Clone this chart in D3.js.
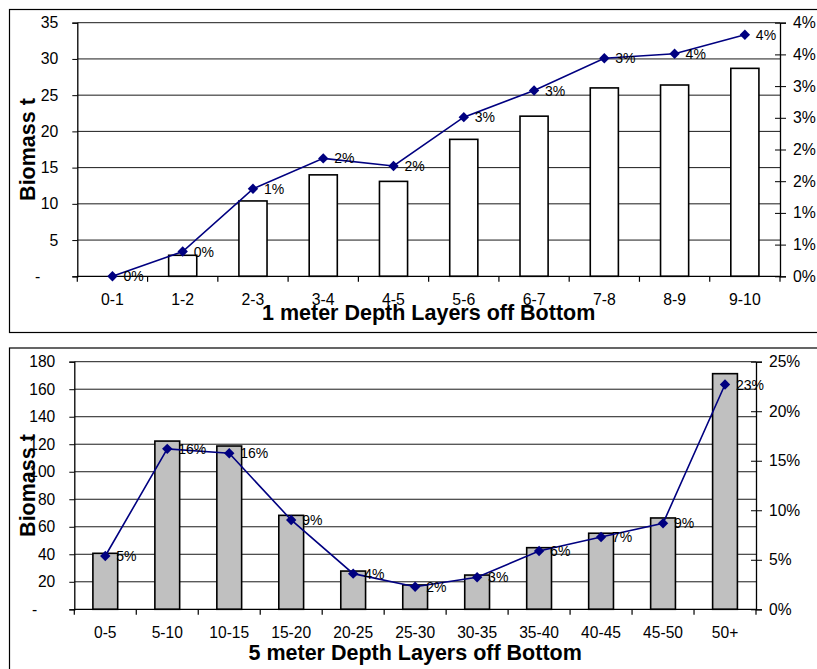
<!DOCTYPE html>
<html>
<head>
<meta charset="utf-8">
<script src="https://cdn.jsdelivr.net/npm/d3@7"></script>
<style>
  html, body { margin: 0; padding: 0; background: #fff; }
  svg { display: block; font-family: "Liberation Sans", Arial, sans-serif; }
</style>
</head>
<body>
<svg id="chart" width="817" height="669"></svg>
<script>
// 1 m layers (0-10 m off bottom)
const topCategories = ["0-1", "1-2", "2-3", "3-4", "4-5", "5-6", "6-7", "7-8", "8-9", "9-10"];
const topBiomass = [0, 2.9, 10.4, 14.0, 13.1, 18.9, 22.1, 26.0, 26.4, 28.7];
const topShare = [0.000, 0.0039, 0.0138, 0.0186, 0.0174, 0.0251, 0.0293, 0.0344, 0.0351, 0.0381];
const topLeftTicks = [0, 5, 10, 15, 20, 25, 30, 35];
const topRightTicks = [0, 0.005, 0.01, 0.015, 0.02, 0.025, 0.03, 0.035, 0.04];

// 5 m layers
const bottomCategories = ["0-5", "5-10", "10-15", "15-20", "20-25", "25-30", "30-35", "35-40", "40-45", "45-50", "50+"];
const bottomBiomass = [40.7, 122.3, 118.7, 68.3, 27.8, 17.7, 24.9, 44.8, 55.3, 66.4, 171.3];
const bottomShare = [0.0538, 0.162, 0.1575, 0.0902, 0.036, 0.0228, 0.0323, 0.0589, 0.073, 0.0868, 0.227];
const bottomLeftTicks = [0, 20, 40, 60, 80, 100, 120, 140, 160, 180];
const bottomRightTicks = [0, 0.05, 0.10, 0.15, 0.20, 0.25];

const svg = d3.select("#chart");
const pct = d => Math.round(d * 100) + "%";
const num = d => d === 0 ? "-" : String(d);
const LINE = "#000080";

function drawPanel(cfg) {
  // frame around the panel
  svg.append("rect")
    .attr("x", 9.5).attr("y", cfg.frameTop + 0.5)
    .attr("width", 830).attr("height", cfg.frameHeight)
    .attr("fill", "none").attr("stroke", "#000").attr("stroke-width", 1.2);

  const x = d3.scaleBand().domain(cfg.categories).range([cfg.left, cfg.right]).paddingInner(0.6).paddingOuter(0.3);
  const yL = d3.scaleLinear().domain([0, cfg.leftMax]).range([cfg.bottom, cfg.top]);
  const yR = d3.scaleLinear().domain([0, cfg.rightMax]).range([cfg.bottom, cfg.top]);
  const step = (cfg.right - cfg.left) / cfg.categories.length;

  const g = svg.append("g");

  // horizontal gridlines
  g.append("g").selectAll("line").data(cfg.leftTicks.filter(d => d > 0)).join("line")
    .attr("x1", cfg.left).attr("x2", cfg.right)
    .attr("y1", d => yL(d)).attr("y2", d => yL(d))
    .attr("stroke", "#1a1a1a").attr("stroke-width", 1);

  // bars
  g.append("g").selectAll("rect").data(cfg.biomass).join("rect")
    .attr("x", (d, i) => x(cfg.categories[i]))
    .attr("width", x.bandwidth())
    .attr("y", d => yL(d))
    .attr("height", d => cfg.bottom - yL(d))
    .attr("fill", cfg.barFill).attr("stroke", "#000").attr("stroke-width", 1.6)
    .attr("display", d => d > 0 ? null : "none");

  // left axis
  const la = g.append("g").attr("transform", `translate(${cfg.left},0)`)
    .call(d3.axisLeft(yL).tickValues(cfg.leftTicks).tickFormat(num).tickSizeOuter(0).tickSize(5).tickPadding(14));
  la.select(".domain").attr("stroke", "#000").attr("stroke-width", 1.3);
  la.selectAll("text").attr("font-size", cfg.tickFont).attr("fill", "#000")
    .attr("font-family", "Liberation Sans, Arial, sans-serif")
    .attr("dx", d => d === 0 ? -18 : 0);

  // right axis with crossing tick marks
  const ra = g.append("g").attr("transform", `translate(${cfg.right},0)`)
    .call(d3.axisRight(yR).tickValues(cfg.rightTicks).tickFormat(pct).tickSizeOuter(0).tickSize(6).tickPadding(7));
  ra.select(".domain").attr("stroke", "#000").attr("stroke-width", 1.3);
  ra.selectAll(".tick line").attr("x1", -5).attr("x2", 6);
  ra.selectAll("text").attr("font-size", cfg.tickFont).attr("fill", "#000")
    .attr("font-family", "Liberation Sans, Arial, sans-serif");

  // bottom axis line, boundary ticks and category labels
  g.append("line").attr("x1", cfg.left).attr("x2", cfg.right)
    .attr("y1", cfg.bottom).attr("y2", cfg.bottom)
    .attr("stroke", "#000").attr("stroke-width", 1.3);
  g.append("g").selectAll("line").data(d3.range(cfg.categories.length + 1)).join("line")
    .attr("x1", i => cfg.left + i * step).attr("x2", i => cfg.left + i * step)
    .attr("y1", cfg.bottom).attr("y2", cfg.bottom + 5.5)
    .attr("stroke", "#000").attr("stroke-width", 1.2);
  g.append("g").selectAll("text").data(cfg.categories).join("text")
    .attr("x", d => x(d) + x.bandwidth() / 2)
    .attr("y", cfg.bottom + 29)
    .attr("text-anchor", "middle")
    .attr("font-size", cfg.tickFont)
    .text(d => d);

  // share line with diamond markers
  const pts = cfg.share.map((v, i) => [x(cfg.categories[i]) + x.bandwidth() / 2, yR(v)]);
  g.append("path").attr("d", d3.line()(pts))
    .attr("fill", "none").attr("stroke", LINE).attr("stroke-width", 1.6);
  g.append("g").selectAll("path").data(pts).join("path")
    .attr("d", "M0,-5.2L5.2,0L0,5.2L-5.2,0Z")
    .attr("transform", d => `translate(${d[0]},${d[1]})`)
    .attr("fill", LINE);

  // value labels
  g.append("g").selectAll("text").data(cfg.share).join("text")
    .attr("x", (d, i) => pts[i][0] + 11)
    .attr("y", d => yR(d))
    .attr("dy", "0.36em")
    .attr("font-size", 14)
    .attr("fill", "#000")
    .text(pct);

  // axis titles
  svg.append("text")
    .attr("transform", `translate(34.5,${(cfg.top + cfg.bottom) / 2}) rotate(-90)`)
    .attr("text-anchor", "middle")
    .attr("font-size", 21.5).attr("font-weight", "bold")
    .text("Biomass t");
  svg.append("text")
    .attr("x", (cfg.left + cfg.right) / 2)
    .attr("y", cfg.titleY)
    .attr("text-anchor", "middle")
    .attr("font-size", 21.5).attr("font-weight", "bold")
    .text(cfg.title);
}

drawPanel({
  categories: topCategories, biomass: topBiomass, share: topShare,
  leftTicks: topLeftTicks, rightTicks: topRightTicks,
  leftMax: 35, rightMax: 0.04,
  left: 77.3, right: 780, top: 22.7, bottom: 276.3,
  frameTop: 9, frameHeight: 323,
  barFill: "#fff", tickFont: 15.8,
  titleY: 320, title: "1 meter Depth Layers off Bottom"
});

drawPanel({
  categories: bottomCategories, biomass: bottomBiomass, share: bottomShare,
  leftTicks: bottomLeftTicks, rightTicks: bottomRightTicks,
  leftMax: 180, rightMax: 0.25,
  left: 74.3, right: 756, top: 361.7, bottom: 609.3,
  frameTop: 347.5, frameHeight: 400,
  barFill: "#c0c0c0", tickFont: 15.6,
  titleY: 660, title: "5 meter Depth Layers off Bottom"
});
</script>
</body>
</html>
